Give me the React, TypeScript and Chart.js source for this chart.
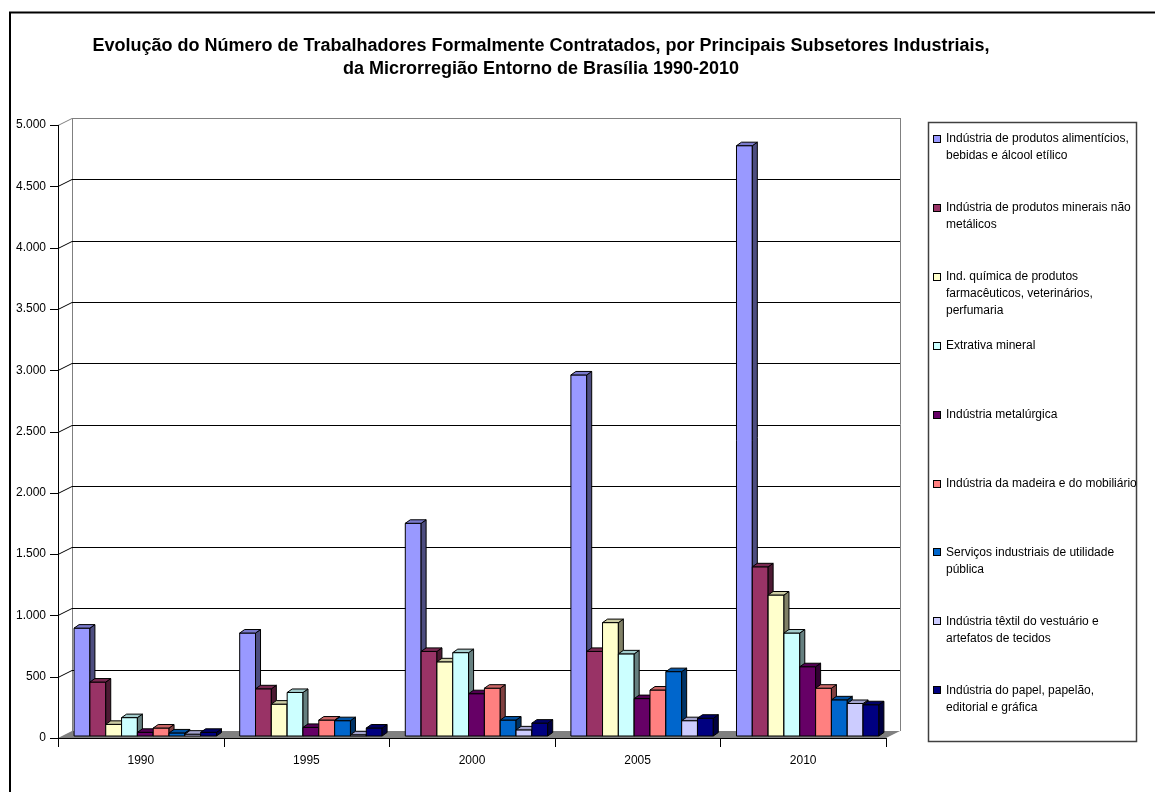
import React, { useEffect, useRef } from "react";
import { Chart, registerables } from "chart.js";

Chart.register(...registerables);

const categories = ["1990", "1995", "2000", "2005", "2010"];

const seriesLabels: string[][] = [
  ["Indústria de produtos alimentícios,", "bebidas e álcool etílico"],
  ["Indústria de produtos minerais não", "metálicos"],
  ["Ind. química de produtos", "farmacêuticos, veterinários,", "perfumaria"],
  ["Extrativa mineral"],
  ["Indústria metalúrgica"],
  ["Indústria da madeira e do mobiliário"],
  ["Serviços industriais de utilidade", "pública"],
  ["Indústria têxtil do vestuário e", "artefatos de tecidos"],
  ["Indústria do papel, papelão,", "editorial e gráfica"],
];

const alimenticios = [880, 840, 1735, 2945, 4815];
const minerais = [440, 385, 690, 690, 1380];
const quimica = [95, 260, 605, 925, 1150];
const extrativa = [150, 355, 680, 670, 840];
const metalurgica = [30, 70, 345, 305, 565];
const madeira = [65, 130, 390, 375, 390];
const servicos = [25, 125, 130, 525, 295];
const textil = [15, 10, 50, 125, 265];
const papel = [30, 65, 105, 145, 255];

const seriesValues = [alimenticios, minerais, quimica, extrativa, metalurgica, madeira, servicos, textil, papel];

const seriesColors = ["#9999FF", "#993366", "#FFFFCC", "#CCFFFF", "#660066", "#FF8080", "#0066CC", "#CCCCFF", "#000080"];

const titleLines = [
  "Evolução do Número de Trabalhadores Formalmente Contratados, por Principais Subsetores Industriais,",
  "da Microrregião Entorno de Brasília 1990-2010",
];

const yMax = 5000;
const yStep = 500;

const FONT = "'Liberation Sans', Arial, Helvetica, sans-serif";

function shade(hex: string, f: number): string {
  const n = parseInt(hex.slice(1), 16);
  const r = Math.round(((n >> 16) & 255) * f);
  const g = Math.round(((n >> 8) & 255) * f);
  const b = Math.round((n & 255) * f);
  return `rgb(${r},${g},${b})`;
}

function fmt(v: number): string {
  return String(v).replace(/\B(?=(\d{3})+(?!\d))/g, ".");
}

const WALL_DX = 14;
const WALL_DY = 7;
const BAR_DX = 5;
const BAR_DY = 3.5;
const BAR_SHIFT_X = 4.5;
const BAR_SHIFT_Y = -2;

const excel3d = {
  id: "excel3d",
  beforeDraw(chart: any) {
    const ctx = chart.ctx;
    ctx.save();
    ctx.fillStyle = "#fff";
    ctx.fillRect(0, 0, chart.width, chart.height);
    // outer frame
    ctx.strokeStyle = "#000";
    ctx.lineWidth = 2;
    ctx.beginPath();
    ctx.moveTo(10, chart.height + 5);
    ctx.lineTo(10, 12.5);
    ctx.lineTo(chart.width + 5, 12.5);
    ctx.stroke();
    // title
    ctx.fillStyle = "#000";
    ctx.font = `bold 18px ${FONT}`;
    ctx.textAlign = "center";
    ctx.textBaseline = "middle";
    ctx.fillText(titleLines[0], 541, 46);
    ctx.fillText(titleLines[1], 541, 69);
    ctx.restore();
  },
  beforeDatasetsDraw(chart: any) {
    const ctx = chart.ctx;
    const xs = chart.scales.x;
    const ys = chart.scales.y;
    const L = chart.chartArea.left;
    const R = chart.chartArea.right;
    const B = ys.getPixelForValue(0);
    const T = ys.getPixelForValue(yMax);
    ctx.save();
    // floor
    ctx.fillStyle = "#808080";
    ctx.beginPath();
    ctx.moveTo(L, B);
    ctx.lineTo(R, B);
    ctx.lineTo(R + WALL_DX, B - WALL_DY);
    ctx.lineTo(L + WALL_DX, B - WALL_DY);
    ctx.closePath();
    ctx.fill();
    // wall edges
    ctx.lineWidth = 1;
    ctx.strokeStyle = "#808080";
    ctx.beginPath();
    ctx.moveTo(L + WALL_DX + 0.5, T - WALL_DY);
    ctx.lineTo(L + WALL_DX + 0.5, B - WALL_DY);
    ctx.moveTo(R + WALL_DX + 0.5, T - WALL_DY);
    ctx.lineTo(R + WALL_DX + 0.5, B - WALL_DY);
    ctx.stroke();
    // gridlines
    for (let v = yStep; v <= yMax; v += yStep) {
      const yy = Math.round(ys.getPixelForValue(v)) + 0.5;
      ctx.strokeStyle = v === yMax ? "#808080" : "#000";
      ctx.beginPath();
      ctx.moveTo(L, yy);
      ctx.lineTo(L + WALL_DX, yy - WALL_DY);
      ctx.lineTo(R + WALL_DX, yy - WALL_DY);
      ctx.stroke();
    }
    // y axis
    ctx.strokeStyle = "#000";
    ctx.beginPath();
    ctx.moveTo(L + 0.5, T);
    ctx.lineTo(L + 0.5, B);
    for (let v = 0; v <= yMax; v += yStep) {
      const yy = Math.round(ys.getPixelForValue(v)) + 0.5;
      ctx.moveTo(L - 8, yy);
      ctx.lineTo(L, yy);
    }
    // x axis
    ctx.moveTo(L, B + 0.5);
    ctx.lineTo(R, B + 0.5);
    const step = xs.getPixelForValue(1) - xs.getPixelForValue(0);
    for (let i = 0; i <= categories.length; i++) {
      const xx = Math.round(xs.getPixelForValue(i) - step / 2) + 0.5;
      ctx.moveTo(xx, B);
      ctx.lineTo(xx, B + 9);
    }
    ctx.stroke();

    // bars
    ctx.lineWidth = 1;
    ctx.strokeStyle = "#000";
    ctx.lineJoin = "miter";
    for (let i = 0; i < categories.length; i++) {
      for (let d = 0; d < chart.data.datasets.length; d++) {
        const meta = chart.getDatasetMeta(d);
        const el: any = meta.data[i];
        if (!el) continue;
        const p = el.getProps(["x", "y", "base", "width"], true);
        const col = seriesColors[d];
        const l = p.x - p.width / 2 + BAR_SHIFT_X;
        const r = p.x + p.width / 2 + BAR_SHIFT_X;
        const t = p.y + BAR_SHIFT_Y;
        const b = p.base + BAR_SHIFT_Y;
        // front
        ctx.fillStyle = col;
        ctx.beginPath();
        ctx.rect(l, t, r - l, b - t);
        ctx.fill();
        ctx.stroke();
        // side
        ctx.fillStyle = shade(col, 0.5);
        ctx.beginPath();
        ctx.moveTo(r, t);
        ctx.lineTo(r + BAR_DX, t - BAR_DY);
        ctx.lineTo(r + BAR_DX, b - BAR_DY);
        ctx.lineTo(r, b);
        ctx.closePath();
        ctx.fill();
        ctx.stroke();
        // top
        ctx.fillStyle = shade(col, 0.8);
        ctx.beginPath();
        ctx.moveTo(l, t);
        ctx.lineTo(l + BAR_DX, t - BAR_DY);
        ctx.lineTo(r + BAR_DX, t - BAR_DY);
        ctx.lineTo(r, t);
        ctx.closePath();
        ctx.fill();
        ctx.stroke();
      }
    }
    ctx.restore();
    return false;
  },
  afterDraw(chart: any) {
    const ctx = chart.ctx;
    ctx.save();
    // legend box
    ctx.strokeStyle = "#404040";
    ctx.lineWidth = 1.5;
    ctx.strokeRect(928.5, 122.5, 208, 619);
    ctx.font = `12px ${FONT}`;
    ctx.textAlign = "left";
    ctx.textBaseline = "middle";
    const itemH = 68.9;
    const lineH = 17;
    for (let i = 0; i < seriesLabels.length; i++) {
      const y0 = 139 + i * itemH;
      ctx.fillStyle = seriesColors[i];
      ctx.lineWidth = 1;
      ctx.strokeStyle = "#000";
      ctx.fillRect(933.5, Math.round(y0) - 3.5, 7, 7);
      ctx.strokeRect(933.5, Math.round(y0) - 3.5, 7, 7);
      ctx.fillStyle = "#000";
      seriesLabels[i].forEach((line, k) => {
        ctx.fillText(line, 946, y0 + k * lineH);
      });
    }
    ctx.restore();
  },
};

export default function App() {
  const ref = useRef<HTMLCanvasElement | null>(null);
  useEffect(() => {
    document.body.style.margin = "0";
    const canvas = ref.current!;
    const chart = new Chart(canvas, {
      type: "bar",
      data: {
        labels: categories,
        datasets: seriesValues.map((vals, i) => ({
          label: seriesLabels[i].join(" "),
          data: vals,
          backgroundColor: seriesColors[i],
          borderColor: "#000",
          borderWidth: 1,
          categoryPercentage: 0.86,
          barPercentage: 1,
        })),
      },
      options: {
        responsive: false,
        animation: false,
        layout: { padding: { left: 0, top: 125, right: 269, bottom: 0 } },
        plugins: {
          legend: { display: false },
          title: { display: false },
          tooltip: { enabled: false },
        },
        scales: {
          x: {
            grid: { display: false, drawTicks: false },
            border: { display: false },
            ticks: { color: "#000", font: { family: FONT, size: 12 }, padding: 15 },
            afterFit: (s: any) => {
              s.height = 54;
            },
          },
          y: {
            min: 0,
            max: yMax,
            grid: { display: false, drawTicks: false },
            border: { display: false },
            ticks: {
              stepSize: yStep,
              color: "#000",
              font: { family: FONT, size: 12 },
              padding: 12,
              callback: (v: any) => fmt(Number(v)),
            },
            afterFit: (s: any) => {
              s.width = 58;
            },
          },
        },
      },
      plugins: [excel3d],
    });
    return () => chart.destroy();
  }, []);
  return <canvas ref={ref} width={1155} height={792} style={{ display: "block" }} />;
}
